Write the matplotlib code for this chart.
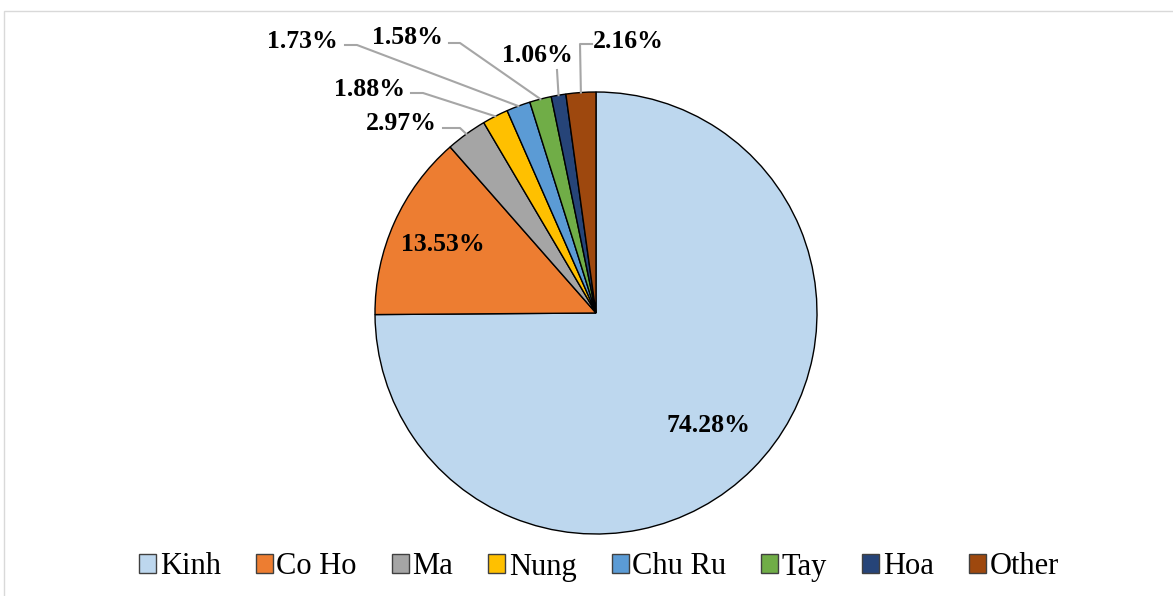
import matplotlib.pyplot as plt
from matplotlib.patches import Rectangle, Patch
import numpy as np

groups = ['Kinh', 'Co Ho', 'Ma', 'Nung', 'Chu Ru', 'Tay', 'Hoa', 'Other']
shares = [74.28, 13.53, 2.97, 1.88, 1.73, 1.58, 1.06, 2.16]
colors = ['#BDD7EE', '#ED7D31', '#A5A5A5', '#FFC000', '#5B9BD5', '#70AD47', '#264478', '#9E480E']

W, H = 1173, 596
# layout in pixel coords (y down): label centre, leader start, leader elbow
outside = {
    2: ((401, 123), (443, 128), (460, 128)),
    3: ((369, 90), (411, 93), (423, 93)),
    4: ((302, 41), (345, 45), (357, 45)),
    5: ((407, 37), (449, 43), (460, 43)),
    6: ((537, 56), (557, 70), (557, 70)),
    7: ((628, 41), (592, 44), (580, 44)),
}
inside_dist = [0.72, 0.76]

plt.rcParams['font.family'] = ['Liberation Serif', 'DejaVu Serif']

fig = plt.figure(figsize=(W / 100, H / 100), dpi=100)
ax = fig.add_axes([0, 0, 1, 1])

def p(x, y):
    return x, H - y

cx, cy = p(596, 313)
r = 221
wedges, _ = ax.pie(shares, colors=colors, startangle=90, counterclock=False,
                   radius=r, center=(cx, cy), frame=True,
                   wedgeprops=dict(edgecolor='black', linewidth=1))
ax.set_xlim(0, W)
ax.set_ylim(0, H)
ax.set_aspect('equal')
ax.axis('off')

for i, w in enumerate(wedges):
    mid = np.deg2rad((w.theta1 + w.theta2) / 2)
    label = f'{shares[i]:.2f}%'
    if i in outside:
        (tx, ty), (sx, sy), (ex, ey) = outside[i]
        ax_, ay_ = cx + r * np.cos(mid), cy + r * np.sin(mid)
        xs = [p(sx, sy)[0], p(ex, ey)[0], ax_]
        ys = [p(sx, sy)[1], p(ex, ey)[1], ay_]
        ax.plot(xs, ys, color='#A6A6A6', lw=1.5, zorder=1)
        ax.text(*p(tx, ty), label, ha='center', va='center', fontsize=18.5,
                fontweight='bold')
    else:
        d = inside_dist[i] * r
        ax.text(cx + d * np.cos(mid), cy + d * np.sin(mid), label,
                ha='center', va='center', fontsize=18.5, fontweight='bold')

handles = [Patch(facecolor=c, edgecolor='#404040', lw=1) for c in colors]
fig.legend(handles, groups, loc='center', bbox_to_anchor=(599 / W, 1 - 567 / H),
           ncol=8, frameon=False, fontsize=22, handlelength=0.55, handleheight=0.6,
           handletextpad=0.12, columnspacing=1.15)

fig.patches.append(Rectangle((4 / W, -0.1), 1.2, (H - 11) / H + 0.1,
                             transform=fig.transFigure, fill=False,
                             edgecolor='#D9D9D9', lw=1, clip_on=False))

fig.savefig('out.png', dpi=100)
